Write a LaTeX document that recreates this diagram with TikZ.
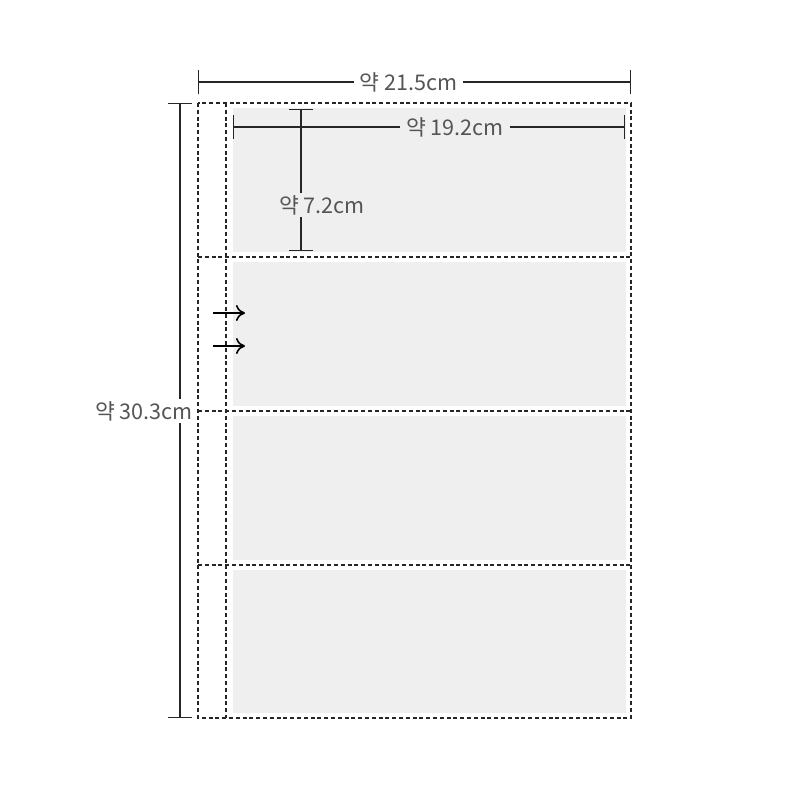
\documentclass[tikz,border=0pt]{standalone}
\usepackage{fontspec}
\newfontfamily\kr{Noto Sans CJK KR}
\usetikzlibrary{arrows.meta}
\definecolor{panel}{HTML}{EFEFEF}
\definecolor{ink}{HTML}{555555}

\begin{document}
\begin{tikzpicture}[x=0.5pt,y=-0.5pt,
    cut/.style={draw=black!85, line width=0.6pt, dash pattern=on 2pt off 1.4pt},
    pocket/.style={fill=panel, draw=none},
    dim/.style={draw=black!85, line width=0.6pt, {Bar[width=12pt]}-{Bar[width=12pt]}},
    lbl/.style={font=\kr\fontsize{10.8}{12}\selectfont, text=ink, inner sep=1pt}]
  \useasboundingbox (0,0) rectangle (800,800);
  % pockets
  \foreach \i/\t/\b in {1/108/252, 2/262/406, 3/416/560, 4/570/713}
    \fill[pocket] (233,\t) rectangle (626,\b);
  % sheet outline and perforations
  \draw[cut] (198,103) rectangle (631,718);
  \draw[cut] (226,103) -- (226,718);
  \foreach \y in {257,411,565}
    \draw[cut] (198,\y) -- (631,\y);
  % feed arrows
  \coordinate (a1s) at (213,313); \coordinate (a1e) at (245,313);
  \coordinate (a2s) at (213,346); \coordinate (a2e) at (245,346);
  \draw[-{To[length=4.5pt,width=8pt]}, line width=0.8pt] (a1s) -- (a1e);
  \draw[-{To[length=4.5pt,width=8pt]}, line width=0.8pt] (a2s) -- (a2e);
  % dimensions
  \coordinate (tl) at (198,82); \coordinate (tr) at (631,82);
  \draw[dim] (tl) -- node[lbl, fill=white, inner xsep=3pt, xshift=-3pt] (w) {약 21.5cm} (tr);
  \coordinate (lt) at (180,103); \coordinate (lb) at (180,718);
  \draw[dim] (lt) -- (lb);
  \node[lbl, fill=white, inner xsep=1pt] (h) at (144,411) {약 30.3cm};
  \coordinate (il) at (233,127); \coordinate (ir) at (625,127);
  \draw[dim] (il) -- node[lbl, fill=panel, inner xsep=3pt, xshift=13pt] (iw) {약 19.2cm} (ir);
  \coordinate (it) at (301,109); \coordinate (ib) at (301,251);
  \draw[dim] (it) -- (ib);
  \node[lbl, fill=panel, inner xsep=1pt] (ih) at (322,205) {약 7.2cm};
\end{tikzpicture}
\end{document}
